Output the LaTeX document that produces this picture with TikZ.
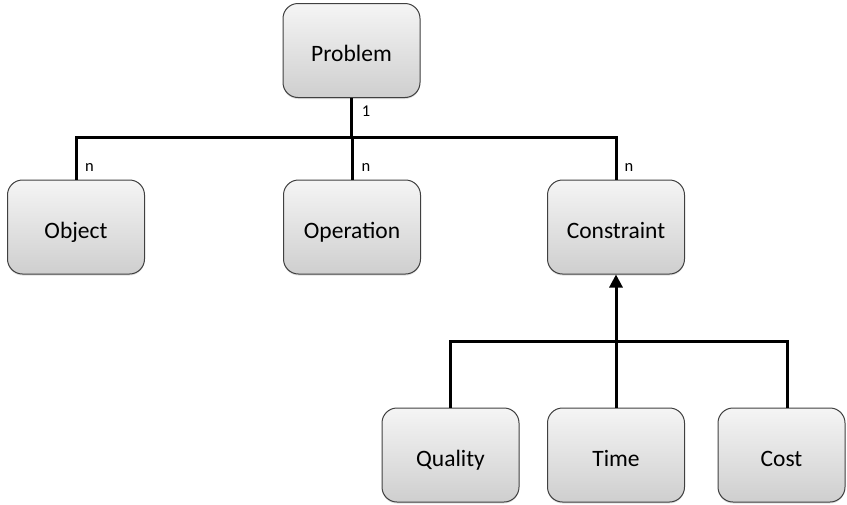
\documentclass[tikz,border=0pt]{standalone}
\usepackage{fontspec}
\setmainfont{Carlito}
\usetikzlibrary{arrows.meta,shadows}
\begin{document}
\begin{tikzpicture}[x=1pt,y=-1pt,
  box/.style={rectangle, rounded corners=15pt, minimum width=137pt, minimum height=94pt,
    top color=gray!8, bottom color=gray!38, draw=black!75, line width=1pt,
    font=\fontsize{23.5}{28}\selectfont, inner sep=0pt,
    text height=22pt, text depth=0pt,
    drop shadow={shadow xshift=0pt, shadow yshift=-1.5pt, opacity=0.25}},
  link/.style={line width=3pt, draw=black},
  mult/.style={font=\fontsize{16.5}{19}\selectfont, inner sep=0pt}]
\useasboundingbox (0,0) rectangle (847,504);

% boxes
\node[box] (problem)    at (351.5,50.5) {Problem};
\node[box] (object)     at (76,227)     {Object};
\node[box] (operation)  at (352,227)    {Operation};
\node[box] (constraint) at (616,227)    {Constraint};
\node[box] (quality)    at (450.5,455)  {Quality};
\node[box] (time)       at (616,455)    {Time};
\node[box, minimum width=127pt] (cost) at (781.5,455) {Cost};

% bus lines
\coordinate (topbus) at (0,137);
\coordinate (lowbus) at (0,341);
\coordinate (costin) at (787,408);

% problem -> parts
\draw[link] (problem.south) -- (problem.south |- topbus);
\draw[link] (object.north) -- (object.north |- topbus)
  -- (constraint.north |- topbus) -- (constraint.north);
\draw[link] (operation.north) -- (operation.north |- topbus);

% constraint kinds
\draw[link] (quality.north) -- (quality.north |- lowbus)
  -- (costin |- lowbus) -- (costin);
\draw[link, -{Triangle[length=13pt,width=13pt]}] (time.north) -- (constraint.south);

% multiplicities
\node[mult] (m1) at (366,111) {1};
\node[mult] (n1) at (89.5,167)  {n};
\node[mult] (n2) at (366,167) {n};
\node[mult] (n3) at (629,167) {n};
\end{tikzpicture}
\end{document}
